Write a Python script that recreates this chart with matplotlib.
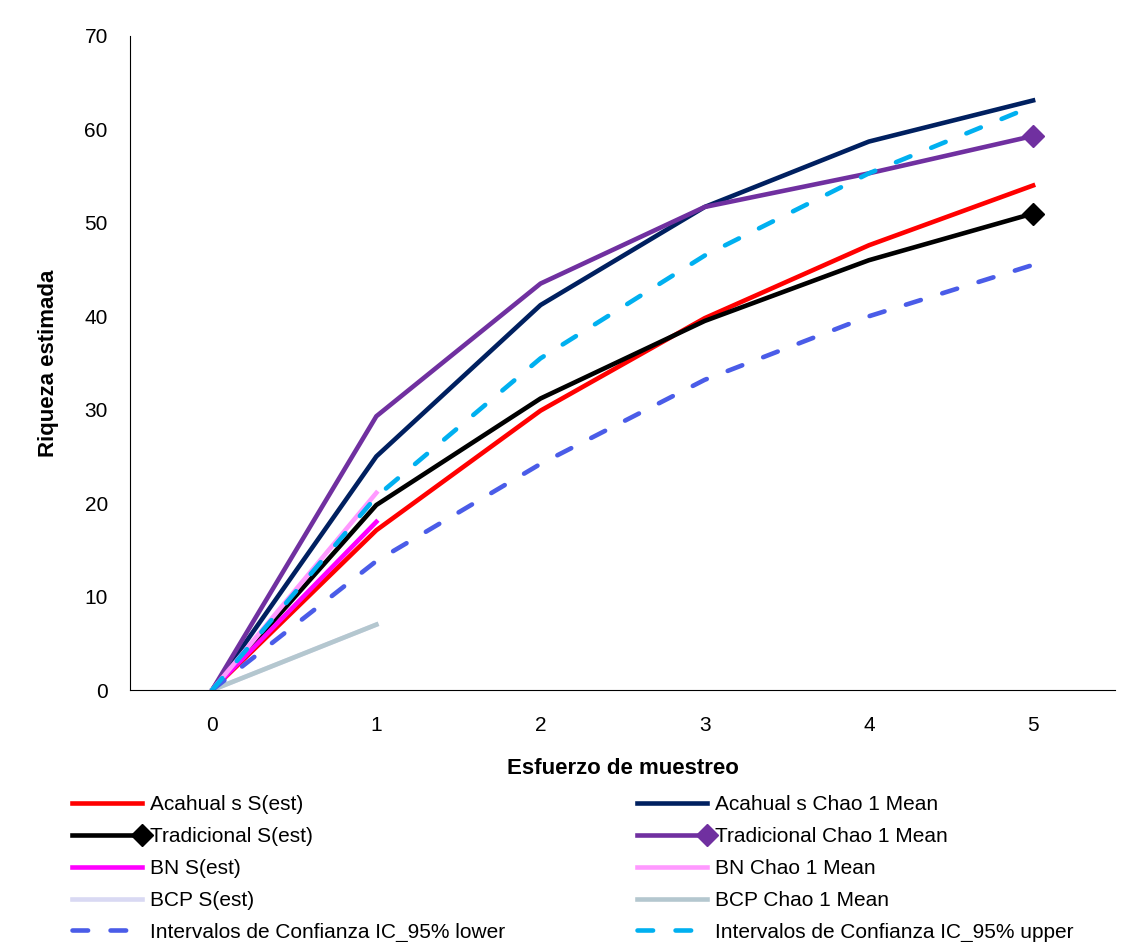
import matplotlib.pyplot as plt
import numpy as np
from matplotlib.legend_handler import HandlerLine2D

plt.rcParams['font.family'] = ['Liberation Sans', 'DejaVu Sans']

esfuerzo = [0, 1, 2, 3, 4, 5]
esfuerzo_corto = [0, 1]

acahual_sest = [0, 17.1, 29.9, 39.8, 47.6, 54.0]
acahual_chao = [0, 25.0, 41.2, 51.7, 58.7, 63.1]
trad_sest = [0, 19.8, 31.2, 39.5, 46.0, 51.0]
trad_chao = [0, 29.3, 43.5, 51.7, 55.3, 59.3]
bn_sest = [0, 18.0]
bn_chao = [0, 21.1]
bcp_sest = [0, 7.0]
bcp_chao = [0, 7.0]
ic_lower = [0, 13.8, 24.2, 33.2, 40.0, 45.5]
ic_upper = [0, 20.7, 35.5, 46.5, 55.3, 62.5]


class EndMarkerHandler(HandlerLine2D):
    # marker at the right end of the legend line, like Excel does
    def create_artists(self, legend, orig_handle, xdescent, ydescent,
                       width, height, fontsize, trans):
        arts = super().create_artists(legend, orig_handle, xdescent, ydescent,
                                      width, height, fontsize, trans)
        for a in arts:
            a.set_markevery([-1])
        return arts


fig = plt.figure(figsize=(11.31, 9.42), dpi=100)
ax = fig.add_axes([0.115, 0.2675, 0.871, 0.6943])

lw = 3.3
dash = (3.4, 4.9)
l1, = ax.plot(esfuerzo, acahual_sest, color='#ff0000', lw=lw, label='Acahual s S(est)')
l2, = ax.plot(esfuerzo, acahual_chao, color='#002060', lw=lw, label='Acahual s Chao 1 Mean')
l3, = ax.plot(esfuerzo, trad_sest, color='black', lw=lw, marker='D', markersize=11,
              markevery=[-1], label='Tradicional S(est)')
l4, = ax.plot(esfuerzo, trad_chao, color='#7030a0', lw=lw, marker='D', markersize=11,
              markevery=[-1], label='Tradicional Chao 1 Mean')
l5, = ax.plot(esfuerzo_corto, bn_sest, color='#ff00ff', lw=lw, label='BN S(est)')
l6, = ax.plot(esfuerzo_corto, bn_chao, color='#ff99ff', lw=lw, label='BN Chao 1 Mean')
l7, = ax.plot(esfuerzo_corto, bcp_sest, color='#d9d9f3', lw=lw, label='BCP S(est)')
l8, = ax.plot(esfuerzo_corto, bcp_chao, color='#b4c7cf', lw=lw, label='BCP Chao 1 Mean')
l9, = ax.plot(esfuerzo, ic_lower, color='#4a5ce8', lw=lw, dashes=dash,
              dash_capstyle='round', label='Intervalos de Confianza IC_95% lower')
l10, = ax.plot(esfuerzo, ic_upper, color='#00b0f0', lw=lw, dashes=dash,
               dash_capstyle='round', label='Intervalos de Confianza IC_95% upper')

ax.set_xlim(-0.5, 5.5)
ax.set_ylim(0, 70)
ax.set_xticks(esfuerzo)
ax.set_yticks(range(0, 71, 10))
ax.tick_params(length=0, labelsize=15)
ax.tick_params(axis='x', pad=19)
ax.tick_params(axis='y', pad=16)
ax.spines['top'].set_visible(False)
ax.spines['right'].set_visible(False)
ax.set_xlabel('Esfuerzo de muestreo', fontsize=16, fontweight='bold', labelpad=16)
ax.set_ylabel('Riqueza estimada', fontsize=16, fontweight='bold', labelpad=18)

hmap = {l3: EndMarkerHandler(numpoints=1), l4: EndMarkerHandler(numpoints=1)}
opts = dict(frameon=False, fontsize=15, handlelength=3.36, handletextpad=0.38,
            labelspacing=0.62, borderpad=0, borderaxespad=0, handler_map=hmap)
fig.legend(handles=[l1, l3, l5, l7, l9], loc='upper left',
           bbox_to_anchor=(0.064, 0.156), **opts)
fig.legend(handles=[l2, l4, l6, l8, l10], loc='upper left',
           bbox_to_anchor=(0.5635, 0.156), **opts)

fig.savefig('out.png', dpi=100)
